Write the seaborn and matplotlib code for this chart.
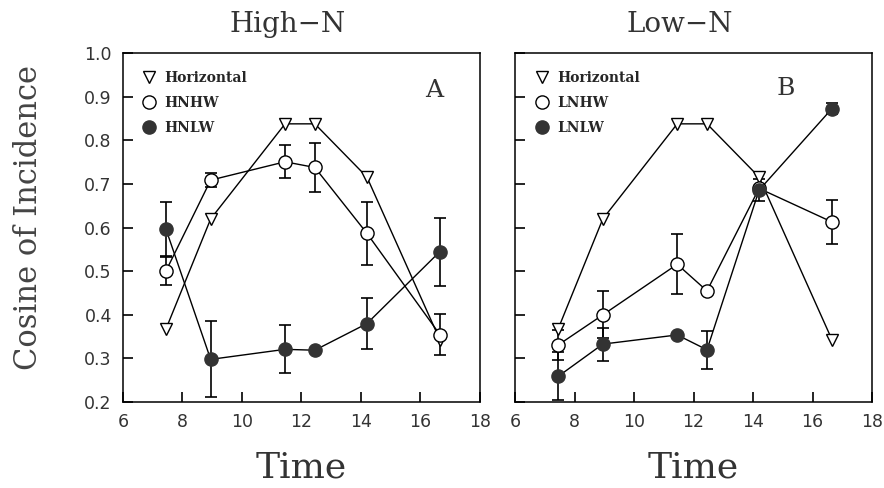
import numpy as np
import pandas as pd
import matplotlib
matplotlib.use("Agg")
import matplotlib.pyplot as plt
import seaborn as sns
from matplotlib.lines import Line2D

# ---- data ----
time = [7.45, 8.95, 11.45, 12.45, 14.2, 16.65]

horiz = [0.368, 0.620, 0.838, 0.838, 0.716, 0.343]

hnhw = [0.501, 0.709, 0.751, 0.738, 0.587, 0.355]
hnhw_err = [0.032, 0.016, 0.038, 0.057, 0.072, 0.048]
hnlw = [0.596, 0.298, 0.321, 0.319, 0.380, 0.545]
hnlw_err = [0.062, 0.087, 0.055, 0.0, 0.058, 0.078]

lnhw = [0.331, 0.400, 0.516, 0.455, 0.690, 0.613]
lnhw_err = [0.035, 0.054, 0.069, 0.0, 0.0, 0.051]
lnlw = [0.259, 0.333, 0.354, 0.320, 0.686, 0.873]
lnlw_err = [0.055, 0.038, 0.0, 0.044, 0.025, 0.012]

titles = ["High\u2212N", "Low\u2212N"]
letters = ["A", "B"]
labels_a = ["Horizontal", "HNHW", "HNLW"]
labels_b = ["Horizontal", "LNHW", "LNLW"]
xticks = [6, 8, 10, 12, 14, 16, 18]
yticks = [0.2, 0.3, 0.4, 0.5, 0.6, 0.7, 0.8, 0.9, 1.0]

sns.set_style("ticks")
plt.rcParams['font.family'] = ['DejaVu Sans']

fig = plt.figure(figsize=(8.84, 4.88), dpi=100)
axA = fig.add_axes([0.139, 0.176, 0.404, 0.715])
axB = fig.add_axes([0.5826, 0.176, 0.404, 0.715])

filled = "#333333"
txt = "#333333"


def panel(ax, hw, hw_err, lw, lw_err, labels, title, show_y):
    df = pd.DataFrame({"t": time, "h": horiz, "hw": hw, "lw": lw})
    ax.errorbar(time, hw, yerr=hw_err, fmt="none", ecolor="black",
                elinewidth=1.2, capsize=4, capthick=1.2, zorder=2)
    ax.errorbar(time, lw, yerr=lw_err, fmt="none", ecolor="black",
                elinewidth=1.2, capsize=4, capthick=1.2, zorder=2)
    sns.lineplot(data=df, x="t", y="h", ax=ax, color="black", lw=1.0,
                 marker="v", ms=9, markerfacecolor="white",
                 markeredgecolor="black", markeredgewidth=1.0, zorder=3)
    sns.lineplot(data=df, x="t", y="hw", ax=ax, color="black", lw=1.0,
                 marker="o", ms=9.5, markerfacecolor="white",
                 markeredgecolor="black", markeredgewidth=1.0, zorder=4)
    sns.lineplot(data=df, x="t", y="lw", ax=ax, color="black", lw=1.0,
                 marker="o", ms=9.5, markerfacecolor=filled,
                 markeredgecolor=filled, markeredgewidth=1.0, zorder=5)
    ax.set_xlim(6, 18)
    ax.set_ylim(0.2, 1.0)
    ax.set_xticks(xticks)
    ax.set_yticks(yticks)
    ax.set_xticklabels([str(v) for v in xticks])
    if show_y:
        ax.set_yticklabels([f"{v:.1f}" for v in yticks])
    else:
        ax.set_yticklabels([])
    ax.tick_params(direction="in", length=7, width=1.2, labelsize=12.5,
                   colors="black", labelcolor=txt, pad=8, top=False, right=False)
    for s in ax.spines.values():
        s.set_visible(True)
        s.set_color("black")
        s.set_linewidth(1.1)
    ax.set_xlabel("Time", family="DejaVu Serif", fontsize=26, labelpad=14,
                  color=txt)
    ax.set_ylabel("")
    ax.set_title(title, family="DejaVu Serif", fontsize=20, pad=15, x=0.46,
                 color=txt)
    handles = [
        Line2D([], [], ls="none", marker="v", ms=8, mfc="white", mec="black"),
        Line2D([], [], ls="none", marker="o", ms=9.5, mfc="white", mec="black"),
        Line2D([], [], ls="none", marker="o", ms=9.5, mfc=filled, mec=filled),
    ]
    ax.legend(handles, labels, loc="upper left", bbox_to_anchor=(0.02, 0.985),
              frameon=False, handlelength=1.0, handletextpad=0.6,
              labelspacing=0.8, prop={"family": "DejaVu Serif",
                                      "weight": "bold", "size": 10})
    return ax


panel(axA, hnhw, hnhw_err, hnlw, hnlw_err, labels_a, titles[0], True)
panel(axB, lnhw, lnhw_err, lnlw, lnlw_err, labels_b, titles[1], False)

axA.text(16.45, 0.915, letters[0], family="DejaVu Serif", fontsize=18,
         ha="center", va="center", color=txt)
axB.text(15.1, 0.92, letters[1], family="DejaVu Serif", fontsize=18,
         ha="center", va="center", color=txt)

fig.text(0.032, 0.555, "Cosine of Incidence", rotation=90, fontsize=22,
         family="DejaVu Serif", ha="center", va="center", color="#444444")

fig.savefig("out.png", dpi=100)
